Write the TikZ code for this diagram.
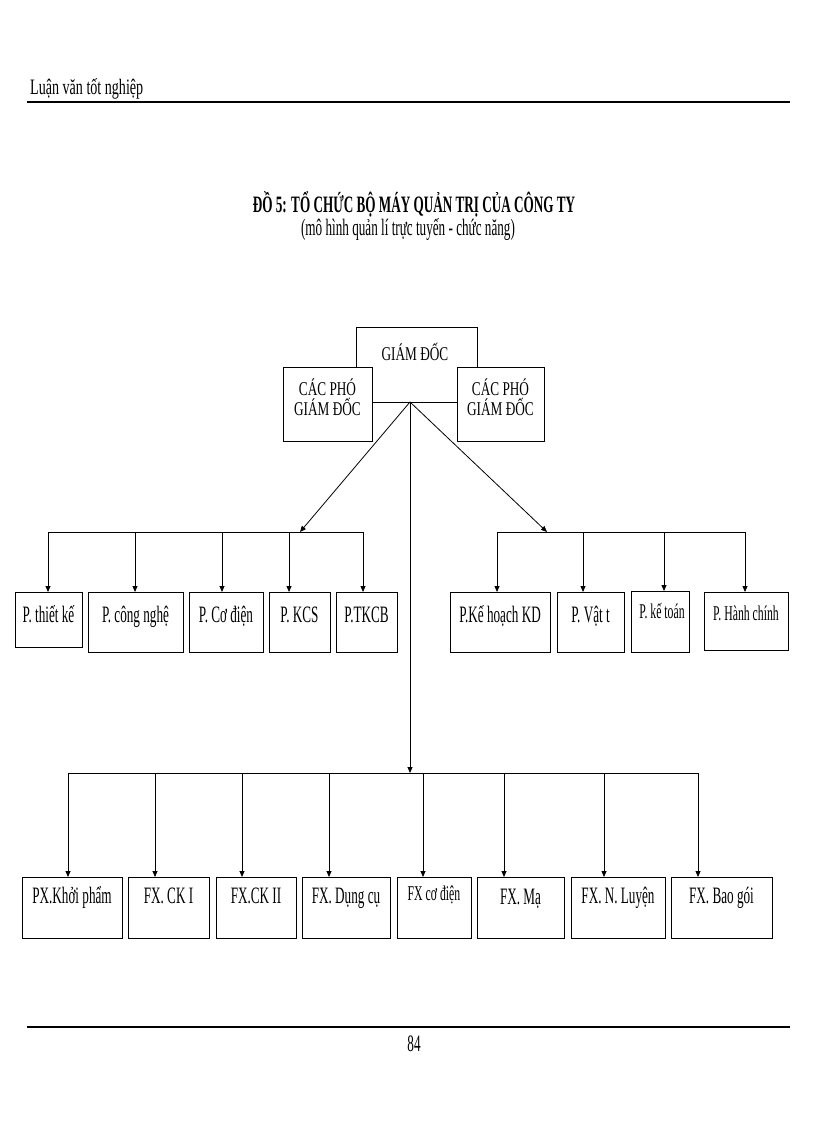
\documentclass[tikz,border=0pt]{standalone}
\usepackage{fontspec}
\setmainfont[FakeStretch=0.56]{Liberation Serif}
\newfontfamily\topfont[FakeStretch=0.68]{Liberation Serif}
\newfontfamily\headfont[FakeStretch=0.64]{Liberation Serif}
\usetikzlibrary{arrows.meta}
\begin{document}
\begin{tikzpicture}[x=1pt,y=-1pt,
  box/.style={draw, line width=1.3pt, anchor=north west, inner sep=0pt},
  lbl/.style={anchor=base, inner sep=0pt, font=\fontsize{23.5}{25}\selectfont},
  slbl/.style={anchor=base, inner sep=0pt, font=\fontsize{21}{23}\selectfont},
  tlbl/.style={anchor=base, inner sep=0pt, font=\topfont\fontsize{19.5}{21}\selectfont},
  conn/.style={line width=0.8pt},
  arr/.style={conn, -{Triangle[length=6pt,width=5pt]}},
  rule/.style={line width=2.5pt}]

\useasboundingbox[fill=white] (0,0) rectangle (816,1123);

% header and footer
\node[anchor=base west, inner sep=0pt, font=\headfont\fontsize{22}{24}\selectfont] (head) at (30,95) {Luận văn tốt nghiệp};
\coordinate (hl) at (27,102); \coordinate (hr) at (790,102);
\draw[rule] (hl) -- (hr);
\coordinate (fl) at (27,1027); \coordinate (fr) at (790,1027);
\draw[rule] (fl) -- (fr);
\node[lbl] (page) at (414,1051) {84};

% title
\node[lbl, font=\bfseries\fontsize{23.5}{25}\selectfont] (title) at (414,213) {ĐỒ 5: TỔ CHỨC BỘ MÁY QUẢN TRỊ CỦA CÔNG TY};
\node[lbl] (subtitle) at (408,236) {(mô hình quản lí trực tuyến - chức năng)};

% top boxes
\node[box, minimum width=121pt, minimum height=75pt] (gd) at (356,327) {};
\node[box, fill=white, minimum width=89pt, minimum height=74pt] (pgl) at (283,367) {};
\node[box, fill=white, minimum width=87pt, minimum height=74pt] (pgr) at (457,367) {};
\node[tlbl] (gdt) at (415,360) {GIÁM ĐỐC};
\node[tlbl] (pglt1) at (327.5,395) {CÁC PHÓ};
\node[tlbl] (pglt2) at (327.5,415) {GIÁM ĐỐC};
\node[tlbl] (pgrt1) at (500.5,395) {CÁC PHÓ};
\node[tlbl] (pgrt2) at (500.5,415) {GIÁM ĐỐC};

\coordinate (apex) at (410,402);

% row 1 left
\node[box, minimum width=67pt, minimum height=55pt] (b1) at (15,592) {};
\node[box, minimum width=95pt, minimum height=60pt] (b2) at (88,592) {};
\node[box, minimum width=74pt, minimum height=60pt] (b3) at (189,592) {};
\node[box, minimum width=61pt, minimum height=60pt] (b4) at (269,592) {};
\node[box, minimum width=61pt, minimum height=60pt] (b5) at (336,592) {};
\node[lbl] (b1t) at (48.5,622) {P. thiết kế};
\node[lbl] (b2t) at (135.5,622) {P. công nghệ};
\node[lbl] (b3t) at (226,622) {P. Cơ điện};
\node[lbl] (b4t) at (299.5,622) {P. KCS};
\node[lbl] (b5t) at (366.5,622) {P.TKCB};

% row 1 right
\node[box, minimum width=100pt, minimum height=60pt] (c1) at (450,592) {};
\node[box, minimum width=67pt, minimum height=60pt] (c2) at (557,592) {};
\node[box, minimum width=58pt, minimum height=61pt] (c3) at (631,591) {};
\node[box, minimum width=84pt, minimum height=58pt] (c4) at (704,592) {};
\node[lbl] (c1t) at (500,622) {P.Kế hoạch KD};
\node[lbl] (c2t) at (590.5,622) {P. Vật t};
\node[slbl] (c3t) at (662,618) {P. kế toán};
\node[slbl] (c4t) at (746,620) {P. Hành chính};

% row 2
\node[box, minimum width=100pt, minimum height=61pt] (d1) at (22,877) {};
\node[box, minimum width=81pt, minimum height=61pt] (d2) at (128,877) {};
\node[box, minimum width=80pt, minimum height=61pt] (d3) at (216,877) {};
\node[box, minimum width=88pt, minimum height=61pt] (d4) at (302,877) {};
\node[box, minimum width=74pt, minimum height=61pt] (d5) at (397,877) {};
\node[box, minimum width=87pt, minimum height=61pt] (d6) at (477,877) {};
\node[box, minimum width=94pt, minimum height=61pt] (d7) at (571,877) {};
\node[box, minimum width=101pt, minimum height=61pt] (d8) at (671,877) {};
\node[lbl] (d1t) at (72,903) {PX.Khởi phẩm};
\node[lbl] (d2t) at (168.5,903) {FX. CK I};
\node[lbl] (d3t) at (256,903) {FX.CK II};
\node[lbl] (d4t) at (346,903) {FX. Dụng cụ};
\node[slbl] (d5t) at (434,900) {FX cơ điện};
\node[lbl] (d6t) at (520.5,904) {FX. Mạ};
\node[lbl] (d7t) at (618,903) {FX. N. Luyện};
\node[lbl] (d8t) at (721.5,903) {FX. Bao gói};

% buses
\coordinate (lb1) at (48,532);
\coordinate (lb2) at (135,532);
\coordinate (lb3) at (222,532);
\coordinate (lb4) at (289,532);
\coordinate (lb5) at (363,532);
\coordinate (lbt) at (300,532);
\coordinate (rb1) at (497,532);
\coordinate (rb2) at (583,532);
\coordinate (rb3) at (664,532);
\coordinate (rb4) at (745,532);
\coordinate (rbt) at (547,532);
\coordinate (db1) at (68,773);
\coordinate (db2) at (155,773);
\coordinate (db3) at (242,773);
\coordinate (db4) at (329,773);
\coordinate (db5) at (423,773);
\coordinate (db6) at (504,773);
\coordinate (db7) at (604,773);
\coordinate (db8) at (698,773);
\coordinate (dbt) at (410,773);

\draw[conn] (lb1) -- (lb5);
\draw[conn] (rb1) -- (rb4);
\draw[conn] (db1) -- (db8);

\draw[arr] (apex) -- (lbt);
\draw[arr] (apex) -- (rbt);
\draw[arr] (apex) -- (dbt);

\foreach \i in {1,...,5} \draw[arr] (lb\i) -- (lb\i |- b\i.north);
\foreach \i in {1,...,4} \draw[arr] (rb\i) -- (rb\i |- c\i.north);
\foreach \i in {1,...,8} \draw[arr] (db\i) -- (db\i |- d\i.north);
\end{tikzpicture}
\end{document}
